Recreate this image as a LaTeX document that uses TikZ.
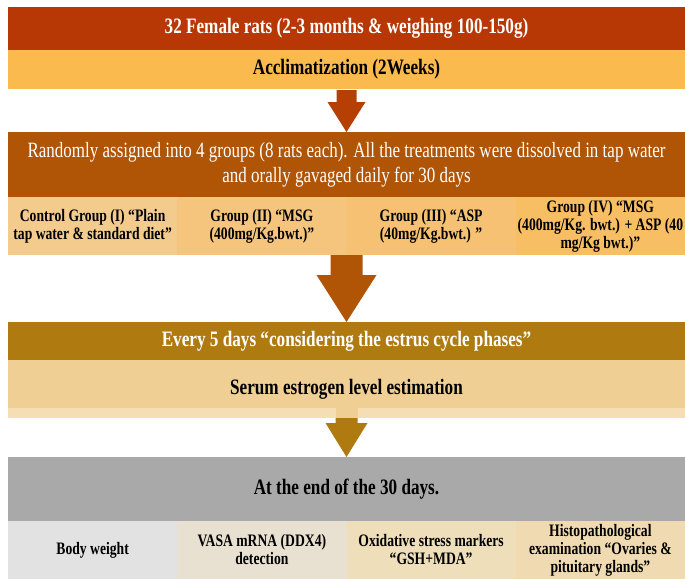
\documentclass[tikz,border=0pt]{standalone}
\usepackage{fontspec}
\setmainfont{Liberation Serif}[FakeStretch=0.78]
\usetikzlibrary{positioning,calc}

\definecolor{ratsred}{RGB}{183,56,4}
\definecolor{arrowred}{RGB}{182,64,4}
\definecolor{acclorange}{RGB}{251,186,78}
\definecolor{randbrown}{RGB}{176,84,6}
\definecolor{grpa}{RGB}{242,203,141}
\definecolor{grpb}{RGB}{245,197,126}
\definecolor{grpc}{RGB}{246,193,114}
\definecolor{grpd}{RGB}{248,190,100}
\definecolor{everybrown}{RGB}{175,122,16}
\definecolor{serumbeige}{RGB}{240,207,148}
\definecolor{serumstrip}{RGB}{246,222,180}
\definecolor{endgray}{RGB}{169,169,169}
\definecolor{outa}{RGB}{226,226,226}
\definecolor{outb}{RGB}{232,224,208}
\definecolor{outc}{RGB}{238,222,186}
\definecolor{outd}{RGB}{240,218,178}

\begin{document}
\begin{tikzpicture}[x=1pt,y=-1pt,
    bar/.style={fill=#1, minimum width=677pt, inner sep=0pt, outer sep=0pt, align=center},
    cell/.style={fill=#1, minimum width=169.25pt, minimum height=58pt, inner sep=0pt, outer sep=0pt,
      align=center, font=\fontsize{17.5}{18}\selectfont\bfseries},
    headfont/.style={font=\fontsize{22}{26}\selectfont\bfseries}
  ]
  \useasboundingbox (0,0) rectangle (685,579);

  % start
  \node[bar=ratsred, minimum height=43pt, anchor=north west, text=white, headfont] (rats) at (8,7)
    {32 Female rats (2-3 months \& weighing 100-150g)};
  \node[bar=acclorange, minimum height=39pt, below=0pt of rats, headfont] (accl) {Acclimatization (2Weeks)};

  % groups
  \node[bar=randbrown, minimum height=65pt, below=43pt of accl, text=white,
    font=\fontsize{21.8}{25}\selectfont] (rand)
    {Randomly assigned into 4 groups (8 rats each). All the treatments were dissolved in tap water\\
     and orally gavaged daily for 30 days};
  \node[cell=grpa, anchor=north west] (g1) at (rand.south west) {Control Group (I) “Plain\\tap water \& standard diet”};
  \node[cell=grpb, right=0pt of g1] (g2) {Group (II) “MSG\\(400mg/Kg.bwt.)”};
  \node[cell=grpc, right=0pt of g2] (g3) {Group (III) “ASP\\(40mg/Kg.bwt.) ”};
  \node[cell=grpd, right=0pt of g3] (g4) {Group (IV) “MSG\\(400mg/Kg. bwt.) + ASP (40\\mg/Kg bwt.)”};

  % every 5 days
  \node[bar=everybrown, minimum height=38pt, below=67pt of g2.south east, text=white, headfont] (every)
    {Every 5 days “considering the estrus cycle phases”};
  \node[bar=serumbeige, minimum height=58pt, below=0pt of every, headfont] (serum) {Serum estrogen level estimation};
  \fill[serumstrip] ($(serum.south west)+(0,-10)$) rectangle (serum.south east);

  % end
  \node[bar=endgray, minimum height=64pt, below=39pt of serum, headfont] (gray) {At the end of the 30 days.};
  \node[cell=outa, anchor=north west] (b1) at (gray.south west) {Body weight};
  \node[cell=outb, right=0pt of b1] (b2) {VASA mRNA (DDX4)\\detection};
  \node[cell=outc, right=0pt of b2] (b3) {Oxidative stress markers\\“GSH+MDA”};
  \node[cell=outd, right=0pt of b3] (b4) {Histopathological\\examination “Ovaries \&\\pituitary glands”};

  % arrows
  \fill[arrowred] ($(accl.south)+(-10,1)$) -- ++(0,12) -- ++(-9,0) -- (rand.north)
    -- ($(accl.south)+(19,13)$) -- ++(-9,0) -- ++(0,-12) -- cycle;
  \fill[randbrown] ($(g2.south east)+(-16,0)$) -- ++(0,20) -- ++(-14,0) -- (every.north)
    -- ($(g2.south east)+(30,20)$) -- ++(-14,0) -- ++(0,-20) -- cycle;
  \fill[serumbeige] ($(serum.south)+(-11,-10)$) rectangle ($(serum.south)+(11,0)$);
  \fill[everybrown] ($(serum.south)+(-11,0)$) -- ++(0,5) -- ++(-10,0) -- (gray.north)
    -- ($(serum.south)+(21,5)$) -- ++(-10,0) -- ++(0,-5) -- cycle;
\end{tikzpicture}
\end{document}
